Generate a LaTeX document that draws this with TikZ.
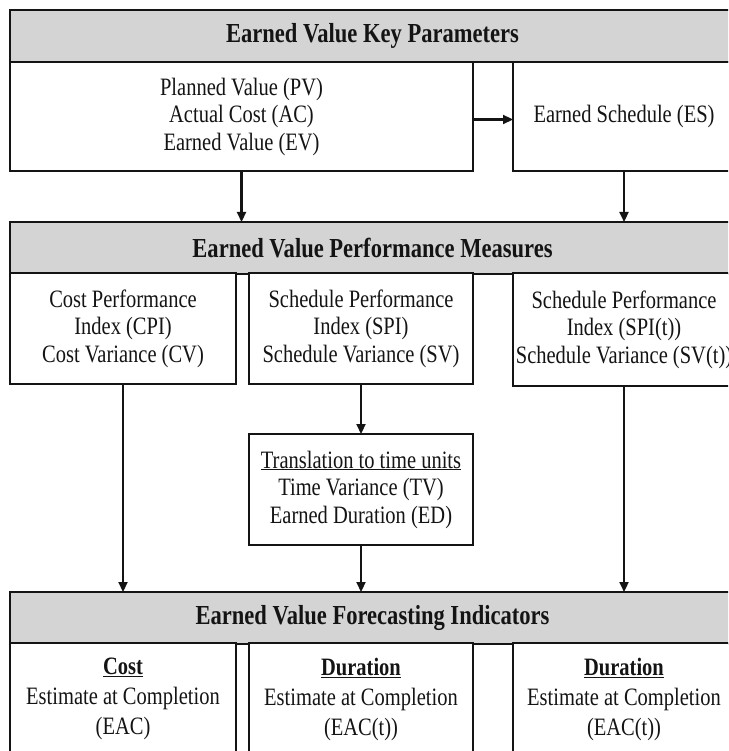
\documentclass[tikz,border=0pt]{standalone}
\usepackage{fontspec}
\setmainfont{Liberation Serif}[FakeStretch=0.82]
\usetikzlibrary{arrows.meta}
\definecolor{barGray}{RGB}{212,212,212}
\definecolor{inkc}{RGB}{20,20,20}
\newcommand{\bodyfnt}{\fontsize{25}{27.5}\selectfont}
\newcommand{\titlefnt}{\bfseries\fontsize{27.5}{30}\selectfont}
\begin{document}
\begin{tikzpicture}[x=1pt,y=-1pt,
  bar/.style={draw=inkc, line width=1.6pt, fill=barGray, minimum height=52, minimum width=725,
    anchor=north west, inner sep=0pt, outer sep=0pt, font=\titlefnt, text=inkc},
  box/.style={draw=inkc, line width=2.4pt, fill=white, anchor=north west, inner sep=0pt, outer sep=0pt,
    align=center, font=\bodyfnt, text=inkc},
  lowbox/.style={box, font=\fontsize{25}{30}\selectfont},
  arr/.style={draw=inkc, line width=2.2pt, -{Triangle[length=10pt,width=9pt]}}]
\useasboundingbox (0,0) rectangle (728,751);
\clip (0,0) rectangle (728,751);
\fill[white] (0,0) rectangle (728,751);

% Key parameters
\node[bar] (kp) at (10,10) {Earned Value Key Parameters};
\node[box, minimum width=463, minimum height=109] (pv) at (10,62)
  {Planned Value (PV)\\Actual Cost (AC)\\Earned Value (EV)};
\node[box, minimum width=222, minimum height=109] (es) at (513,62) {Earned Schedule (ES)};

% Performance measures
\node[bar] (pm) at (10,222) {Earned Value Performance Measures};
\node[box, minimum width=226, minimum height=111] (cpi) at (10,273)
  {Cost Performance\\Index (CPI)\\Cost Variance (CV)};
\node[box, minimum width=224, minimum height=111] (spi) at (249,273)
  {Schedule Performance\\Index (SPI)\\Schedule Variance (SV)};
\node[box, minimum width=222, minimum height=113] (spit) at (513,273)
  {Schedule Performance\\Index (SPI(t))\\Schedule Variance (SV(t))};
\node[box, minimum width=224, minimum height=111] (tr) at (249,434)
  {\underline{Translation to time units}\\Time Variance (TV)\\Earned Duration (ED)};

% Forecasting indicators
\node[bar] (fi) at (10,592) {Earned Value Forecasting Indicators};
\node[lowbox, minimum width=226, minimum height=112] (c1) at (10,643)
  {\textbf{\underline{Cost}}\\Estimate at Completion\\(EAC)};
\node[lowbox, minimum width=224, minimum height=112] (c2) at (249,643)
  {\textbf{\underline{Duration}}\\Estimate at Completion\\(EAC(t))};
\node[lowbox, minimum width=222, minimum height=112] (c3) at (513,643)
  {\textbf{\underline{Duration}}\\Estimate at Completion\\(EAC(t))};

% connectors
\draw[arr] ([yshift=-3pt]pv.east) -- ([yshift=-3pt]es.west);
\draw[arr] (pv.south) -- (pv.south |- pm.north);
\draw[arr] (es.south) -- (es.south |- pm.north);
\draw[arr] (spi.south) -- (tr.north);
\draw[arr] (cpi.south) -- (cpi.south |- fi.north);
\draw[arr] (tr.south) -- (tr.south |- fi.north);
\draw[arr] (spit.south) -- (spit.south |- fi.north);
\end{tikzpicture}
\end{document}
